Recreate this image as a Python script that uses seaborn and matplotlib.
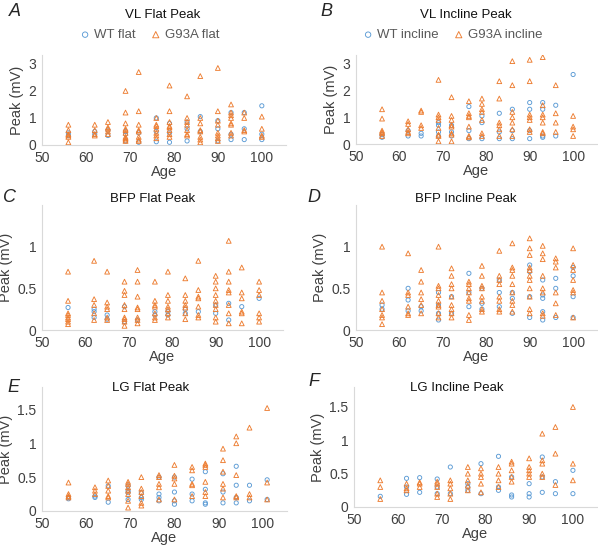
import pandas as pd
import matplotlib
matplotlib.use("Agg")
import matplotlib.pyplot as plt
import seaborn as sns

# ==========================================
# DATA
# ==========================================
ages = [56, 62, 65, 69, 72, 76, 79, 83, 86, 90, 93, 96, 100]
ages_lg_flat = [56, 62, 65, 69.5, 72.5, 76.5, 80, 84, 87, 91, 94, 97, 101]

# VL flat
vl_flat_wt = [[0.35, 0.45], [0.4, 0.5], [0.35, 0.55], [0.15, 0.4, 0.5], [0.1, 0.45],
              [0.12, 0.5, 1.0], [0.1, 0.45, 0.8], [0.15, 0.6, 0.85], [0.5, 1.05],
              [0.15, 0.6, 0.9], [0.2, 0.4, 1.2], [0.2, 0.6, 1.2], [0.2, 0.4, 1.45]]
vl_flat_g93a = [[0.1, 0.3, 0.35, 0.4, 0.55, 0.75], [0.35, 0.4, 0.55, 0.75],
                [0.4, 0.5, 0.6, 0.65, 0.85],
                [0.15, 0.2, 0.25, 0.3, 0.45, 0.55, 0.6, 0.8, 1.2, 2.0],
                [0.15, 0.2, 0.3, 0.5, 0.55, 0.75, 1.25, 2.7],
                [0.25, 0.35, 0.45, 0.6, 0.7, 0.75, 1.0],
                [0.3, 0.4, 0.55, 0.65, 0.7, 0.85, 1.25, 2.2],
                [0.35, 0.4, 0.55, 0.75, 0.85, 1.0, 1.8],
                [0.1, 0.2, 0.3, 0.5, 0.55, 0.8, 1.0, 2.55],
                [0.15, 0.25, 0.35, 0.45, 0.75, 0.9, 1.25, 2.85],
                [0.35, 0.45, 0.75, 0.8, 1.0, 1.1, 1.2, 1.5],
                [0.5, 0.55, 1.0, 1.2], [0.3, 0.35, 0.6, 1.05]]

# VL incline
vl_incl_wt = [[0.25, 0.35], [0.3, 0.5], [0.3, 0.4], [0.3, 0.45, 0.7, 0.8], [0.3, 0.45, 0.7],
              [0.2, 0.5, 1.4], [0.2, 0.8, 1.05], [0.2, 0.45, 1.15], [0.2, 0.5, 1.3],
              [0.2, 0.5, 1.3, 1.55], [0.25, 0.3, 1.3, 1.55], [0.3, 1.45], [2.6]]
vl_incl_g93a = [[0.3, 0.4, 0.45, 0.5, 0.95, 1.3], [0.4, 0.45, 0.55, 0.75, 0.85],
                [0.6, 0.7, 1.2, 1.25], [0.1, 0.3, 0.35, 0.6, 0.9, 1.0, 1.1, 2.4],
                [0.1, 0.35, 0.4, 0.65, 0.7, 0.9, 1.05, 1.75],
                [0.25, 0.3, 0.65, 1.0, 1.05, 1.15, 1.6],
                [0.3, 0.4, 0.9, 1.2, 1.3, 1.5, 1.7],
                [0.3, 0.55, 0.7, 0.8, 1.7, 2.35],
                [0.3, 0.55, 0.8, 1.0, 1.2, 2.2, 3.1],
                [0.45, 0.55, 0.9, 1.0, 1.1, 2.35, 3.15],
                [0.4, 0.45, 0.8, 1.0, 1.1, 1.45, 3.25],
                [0.45, 0.8, 1.15, 2.2], [0.3, 0.55, 0.65, 1.05]]

# BFP flat
bfp_flat_wt = [[0.27], [0.15, 0.22, 0.25], [0.13, 0.18], [0.1, 0.28], [0.12], [0.18, 0.22],
               [0.18, 0.22], [0.2, 0.25], [0.22], [0.2, 0.3], [0.12, 0.32], [0.28], [0.38]]
bfp_flat_g93a = [[0.07, 0.1, 0.13, 0.15, 0.18, 0.2, 0.35, 0.7],
                 [0.12, 0.2, 0.3, 0.37, 0.83],
                 [0.12, 0.15, 0.25, 0.28, 0.33, 0.7],
                 [0.05, 0.1, 0.13, 0.15, 0.25, 0.3, 0.42, 0.47, 0.58],
                 [0.08, 0.12, 0.15, 0.25, 0.27, 0.4, 0.58, 0.72],
                 [0.12, 0.15, 0.2, 0.28, 0.3, 0.35, 0.58],
                 [0.15, 0.2, 0.25, 0.28, 0.35, 0.42, 0.7],
                 [0.13, 0.2, 0.27, 0.3, 0.35, 0.42, 0.62],
                 [0.15, 0.18, 0.28, 0.38, 0.4, 0.48, 0.83],
                 [0.1, 0.15, 0.25, 0.3, 0.35, 0.42, 0.5, 0.58, 0.65],
                 [0.08, 0.2, 0.3, 0.45, 0.48, 0.58, 0.7, 1.07],
                 [0.08, 0.2, 0.22, 0.38, 0.45, 0.75],
                 [0.1, 0.15, 0.2, 0.42, 0.48, 0.58]]

# BFP incline
bfp_incl_wt = [[0.25, 0.3], [0.23, 0.36, 0.5], [0.23, 0.28], [0.12, 0.2, 0.3, 0.45],
               [0.2, 0.4], [0.28, 0.45, 0.68], [0.25, 0.32, 0.5], [0.28, 0.45, 0.6],
               [0.2, 0.38, 0.45], [0.15, 0.4, 0.7, 0.78], [0.12, 0.22, 0.38, 0.42, 0.6],
               [0.15, 0.5, 0.62], [0.15, 0.4, 0.65, 0.75]]
bfp_incl_g93a = [[0.07, 0.15, 0.18, 0.25, 0.35, 0.45, 1.0],
                 [0.18, 0.2, 0.28, 0.42, 0.45, 0.92],
                 [0.2, 0.3, 0.37, 0.45, 0.58, 0.72],
                 [0.15, 0.2, 0.28, 0.3, 0.35, 0.42, 0.5, 0.53, 1.0],
                 [0.15, 0.2, 0.25, 0.3, 0.4, 0.5, 0.55, 0.65, 0.74],
                 [0.12, 0.18, 0.35, 0.38, 0.45, 0.5, 0.55, 0.58],
                 [0.22, 0.25, 0.35, 0.4, 0.5, 0.53, 0.65, 0.77],
                 [0.22, 0.25, 0.35, 0.4, 0.55, 0.6, 0.65, 0.95],
                 [0.22, 0.3, 0.35, 0.45, 0.55, 0.65, 0.72, 0.75, 1.04],
                 [0.2, 0.25, 0.4, 0.5, 0.6, 0.65, 0.72, 0.75, 0.9, 0.98, 1.1],
                 [0.17, 0.2, 0.45, 0.5, 0.65, 0.85, 0.92, 1.01],
                 [0.18, 0.32, 0.45, 0.75, 0.82, 0.86],
                 [0.15, 0.45, 0.48, 0.6, 0.72, 0.78, 0.98]]

# LG flat
lg_flat_wt = [[0.18, 0.2], [0.2, 0.22], [0.13, 0.37], [0.17, 0.27, 0.3, 0.37],
              [0.17, 0.2, 0.27], [0.15, 0.2, 0.25, 0.5], [0.1, 0.15, 0.28, 0.5],
              [0.15, 0.25, 0.47], [0.1, 0.12, 0.32, 0.58], [0.12, 0.28, 0.55],
              [0.12, 0.2, 0.38, 0.66], [0.15, 0.38], [0.17, 0.46]]
lg_flat_g93a = [[0.2, 0.22, 0.25, 0.42], [0.25, 0.3, 0.35], [0.2, 0.22, 0.3, 0.37, 0.45],
                [0.05, 0.15, 0.25, 0.3, 0.35, 0.4, 0.43],
                [0.08, 0.12, 0.22, 0.28, 0.33, 0.5],
                [0.17, 0.35, 0.4, 0.5, 0.53], [0.17, 0.4, 0.48, 0.52, 0.68],
                [0.22, 0.38, 0.4, 0.6, 0.65], [0.22, 0.28, 0.43, 0.65, 0.68, 0.7],
                [0.2, 0.33, 0.4, 0.58, 0.75, 0.92], [0.2, 0.22, 0.53, 1.0, 1.1],
                [0.2, 0.25, 1.23], [0.17, 0.42, 1.52]]

# LG incline
lg_incl_wt = [[0.16], [0.19, 0.3, 0.43], [0.22, 0.44], [0.2, 0.3, 0.42], [0.2, 0.6],
              [0.25, 0.3, 0.35], [0.2, 0.65], [0.25, 0.3, 0.76], [0.15, 0.18, 0.45],
              [0.15, 0.2, 0.35], [0.22, 0.45, 0.75], [0.2, 0.38], [0.2, 0.55]]
lg_incl_g93a = [[0.12, 0.3, 0.4], [0.25, 0.28, 0.35], [0.3, 0.35, 0.37],
                [0.15, 0.2, 0.3, 0.35, 0.38], [0.12, 0.2, 0.28, 0.35, 0.4],
                [0.25, 0.32, 0.4, 0.5, 0.6], [0.22, 0.35, 0.45, 0.5, 0.58],
                [0.3, 0.4, 0.5, 0.6], [0.38, 0.45, 0.55, 0.65, 0.68],
                [0.45, 0.5, 0.55, 0.6, 0.73], [0.45, 0.5, 0.65, 0.7, 1.1],
                [0.33, 0.8, 1.2], [0.4, 0.65, 1.5]]

WT_COLOR = "#5b9bd5"
G93A_COLOR = "#ed7d31"


def to_frame(age_list, groups):
    rows = []
    for a, vals in zip(age_list, groups):
        for v in vals:
            rows.append((a, v))
    return pd.DataFrame(rows, columns=["age", "peak"])


sns.set_style("white")
plt.rcParams["font.family"] = ["Liberation Sans", "DejaVu Sans"]

fig = plt.figure(figsize=(5.98, 5.46), dpi=100)

W, H = 598, 546


def px_axes(left, top, right, bottom):
    return fig.add_axes([left / W, 1 - bottom / H, (right - left) / W, (bottom - top) / H])


panels = [
    # letter, title, ages, wt, g93a, axes rect (px), y top, yticks, legend suffix,
    # title pos (px), letter pos (px)
    ("A", "VL Flat Peak", ages, vl_flat_wt, vl_flat_g93a, (42, 55, 286, 145), 3.33,
     [0, 1, 2, 3], "flat", (163, 15), (9, 12)),
    ("B", "VL Incline Peak", ages, vl_incl_wt, vl_incl_g93a, (356, 55, 597, 144), 3.33,
     [0, 1, 2, 3], "incline", (466, 15), (320, 12)),
    ("C", "BFP Flat Peak", ages, bfp_flat_wt, bfp_flat_g93a, (42, 205, 283, 330), 1.5,
     [0, 0.5, 1], None, (153, 199), (3, 197)),
    ("D", "BFP Incline Peak", ages, bfp_incl_wt, bfp_incl_g93a, (356, 205, 597, 330), 1.5,
     [0, 0.5, 1], None, (466, 199), (307, 197)),
    ("E", "LG Flat Peak", ages_lg_flat, lg_flat_wt, lg_flat_g93a, (42, 387, 287, 511), 1.83,
     [0, 0.5, 1, 1.5], None, (151, 388), (7, 388)),
    ("F", "LG Incline Peak", ages, lg_incl_wt, lg_incl_g93a, (354, 387, 597, 507), 1.8,
     [0, 0.5, 1, 1.5], None, (457, 388), (308, 381)),
]

for letter, title, age_list, wt, g93a, rect, ytop, yt, leg, tpos, lpos in panels:
    ax = px_axes(*rect)
    df_wt = to_frame(age_list, wt)
    df_g = to_frame(age_list, g93a)
    sns.scatterplot(data=df_wt, x="age", y="peak", ax=ax, marker="o", s=9,
                    facecolor="none", edgecolor=WT_COLOR, linewidth=0.65,
                    label=f"WT {leg}" if leg else None, legend=False)
    sns.scatterplot(data=df_g, x="age", y="peak", ax=ax, marker="^", s=12,
                    facecolor="none", edgecolor=G93A_COLOR, linewidth=0.65,
                    label=f"G93A {leg}" if leg else None, legend=False)

    ax.set_xlim(50, 105.5)
    ax.set_ylim(0, ytop)
    ax.set_xticks([50, 60, 70, 80, 90, 100])
    ax.set_yticks(yt)
    ax.set_yticklabels([f"{t:g}" for t in yt])
    ax.tick_params(axis="both", length=0, labelsize=10, colors="#404040", pad=4)
    for side in ["top", "right"]:
        ax.spines[side].set_visible(False)
    for side in ["left", "bottom"]:
        ax.spines[side].set_color("#d9d9d9")
        ax.spines[side].set_linewidth(0.8)
    ax.set_xlabel("Age", fontsize=10.5, color="#404040", labelpad=0)
    ax.set_ylabel("Peak (mV)", fontsize=10.5, color="#404040", labelpad=3)

    fig.text(tpos[0] / W, 1 - tpos[1] / H, title, ha="center", va="center",
             fontsize=9.5, color="#111111")
    fig.text(lpos[0] / W, 1 - lpos[1] / H, letter, style="italic", fontsize=13,
             ha="left", va="center")

    if leg:
        handles, labels = ax.get_legend_handles_labels()
        cx = (tpos[0] - 14 - rect[0]) / (rect[2] - rect[0])
        ax.legend(handles, labels, loc="center",
                  bbox_to_anchor=(cx, 1 + 20 / (rect[3] - rect[1])),
                  ncol=2, frameon=False, fontsize=9.5, labelcolor="#595959",
                  handletextpad=0.2, columnspacing=1.0, handlelength=1.0, markerscale=1.3)

fig.savefig("out.png", dpi=100)
